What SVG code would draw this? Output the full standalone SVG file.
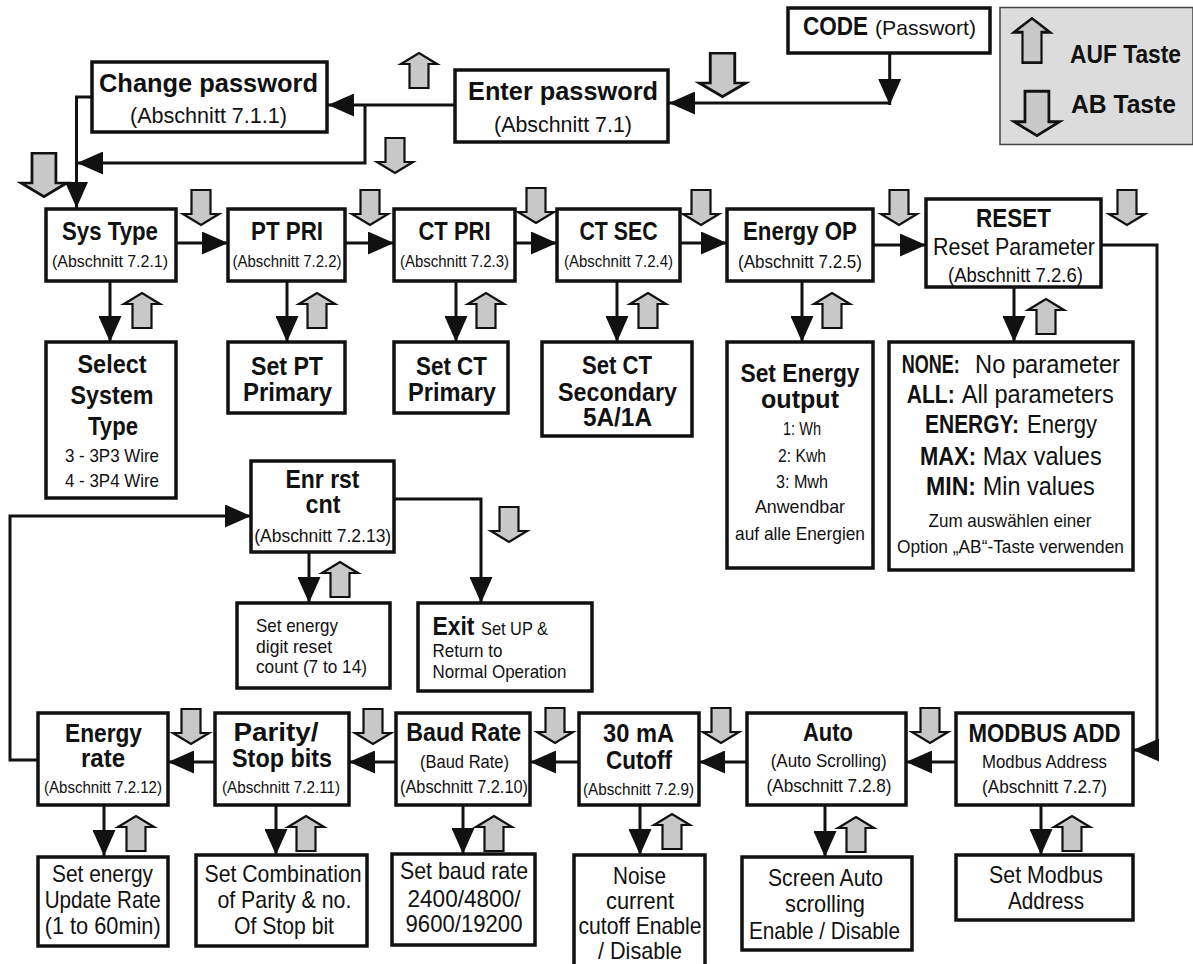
<svg xmlns="http://www.w3.org/2000/svg" xmlns:xlink="http://www.w3.org/1999/xlink" width="1193" height="964" viewBox="0 0 1193 964">
<style>
.b{fill:#fff;stroke:#111;stroke-width:3.5}
.lg{fill:#dcdcdc;stroke:#444;stroke-width:1.5}
.c{fill:none;stroke:#111;stroke-width:3}
.k{fill:#c8c8c8;stroke:#111;stroke-width:2.2;stroke-linejoin:miter}
text{font-family:"Liberation Sans",Arial,sans-serif;fill:#111}
.t{font-weight:bold;font-size:25px;text-anchor:middle}
.m{text-anchor:middle}
</style>
<defs>
<marker id="ah" viewBox="0 0 26 23" refX="26" refY="11.5" markerWidth="26" markerHeight="23" markerUnits="userSpaceOnUse" orient="auto"><path d="M0,0 L26,11.5 L0,23 Z" fill="#111"/></marker>
<path id="dn" class="k" d="M9.5,1 H28.5 V25 H37 L19,36 L1,25 H9.5 Z"/>
<path id="up" class="k" d="M9.5,36 H28.5 V12 H37 L19,1 L1,12 H9.5 Z"/>
</defs>

<g id="connectors">
<path class="c" d="M889.7,53 V105" marker-end="url(#ah)"/>
<path class="c" d="M889.7,103 H669" marker-end="url(#ah)"/>
<path class="c" d="M455,105 H328" marker-end="url(#ah)"/>
<path class="c" d="M365,105 V163 H77" marker-end="url(#ah)"/>
<path class="c" d="M92,97 H76.5 V208" marker-end="url(#ah)"/>
<path class="c" d="M176,243 H228" marker-end="url(#ah)"/>
<path class="c" d="M345,243 H394" marker-end="url(#ah)"/>
<path class="c" d="M515,243 H557" marker-end="url(#ah)"/>
<path class="c" d="M680,243 H727" marker-end="url(#ah)"/>
<path class="c" d="M873,245 H926" marker-end="url(#ah)"/>
<path class="c" d="M1101,245 H1157 V750 H1133" marker-end="url(#ah)"/>
<path class="c" d="M110,281 V342" marker-end="url(#ah)"/>
<path class="c" d="M287,281 V342" marker-end="url(#ah)"/>
<path class="c" d="M456,281 V342" marker-end="url(#ah)"/>
<path class="c" d="M617,281 V342" marker-end="url(#ah)"/>
<path class="c" d="M802,281 V342" marker-end="url(#ah)"/>
<path class="c" d="M1014,287 V342" marker-end="url(#ah)"/>
<path class="c" d="M956,762 H906" marker-end="url(#ah)"/>
<path class="c" d="M747,762 H699" marker-end="url(#ah)"/>
<path class="c" d="M579,762 H530" marker-end="url(#ah)"/>
<path class="c" d="M396,762 H349" marker-end="url(#ah)"/>
<path class="c" d="M215,762 H168" marker-end="url(#ah)"/>
<path class="c" d="M38,760 H10 V516 H251" marker-end="url(#ah)"/>
<path class="c" d="M309,552 V603" marker-end="url(#ah)"/>
<path class="c" d="M394,499 H481 V603" marker-end="url(#ah)"/>
<path class="c" d="M104,805 V856" marker-end="url(#ah)"/>
<path class="c" d="M276,805 V855" marker-end="url(#ah)"/>
<path class="c" d="M463,805 V854" marker-end="url(#ah)"/>
<path class="c" d="M640,805 V855" marker-end="url(#ah)"/>
<path class="c" d="M825,805 V857" marker-end="url(#ah)"/>
<path class="c" d="M1041,805 V855" marker-end="url(#ah)"/>
</g>

<g id="keys">
<use xlink:href="#dn" transform="translate(20,152) scale(1.26,1.24)"/>
<use xlink:href="#dn" transform="translate(698,52) scale(1.29,1.24)"/>
<use xlink:href="#dn" x="376" y="137"/>
<use xlink:href="#up" x="400" y="52"/>
<use xlink:href="#dn" x="182" y="189"/>
<use xlink:href="#dn" x="351" y="189"/>
<use xlink:href="#dn" x="517" y="187"/>
<use xlink:href="#dn" x="682" y="189"/>
<use xlink:href="#dn" x="880" y="189"/>
<use xlink:href="#dn" x="1108" y="189"/>
<use xlink:href="#dn" x="490" y="506"/>
<use xlink:href="#dn" x="172" y="708"/>
<use xlink:href="#dn" x="354" y="708"/>
<use xlink:href="#dn" x="536" y="707"/>
<use xlink:href="#dn" x="702" y="707"/>
<use xlink:href="#dn" x="911" y="707"/>
<use xlink:href="#up" x="123" y="292"/>
<use xlink:href="#up" x="298" y="292"/>
<use xlink:href="#up" x="467" y="292"/>
<use xlink:href="#up" x="629" y="292"/>
<use xlink:href="#up" x="813" y="292"/>
<use xlink:href="#up" x="1027" y="298"/>
<use xlink:href="#up" x="321" y="561"/>
<use xlink:href="#up" x="117" y="815"/>
<use xlink:href="#up" x="287" y="815"/>
<use xlink:href="#up" x="475" y="815"/>
<use xlink:href="#up" x="653" y="813"/>
<use xlink:href="#up" x="837" y="816"/>
<use xlink:href="#up" x="1053" y="815"/>
</g>

<g id="legend">
<rect class="lg" x="1000" y="7.5" width="193" height="137"/>
<use xlink:href="#up" transform="translate(1013,17) scale(1,1.27)"/>
<use xlink:href="#dn" transform="translate(1013,90) scale(1.26,1.27)"/>
<text x="1070" y="63" font-size="26" font-weight="bold" textLength="111" lengthAdjust="spacingAndGlyphs">AUF Taste</text>
<text x="1071" y="113" font-size="26" font-weight="bold" textLength="105" lengthAdjust="spacingAndGlyphs">AB Taste</text>
</g>

<g id="code">
<rect class="b" x="788" y="8" width="202" height="45"/>
<text x="803" y="35" font-size="26" font-weight="bold" textLength="65" lengthAdjust="spacingAndGlyphs">CODE</text>
<text x="875" y="35" font-size="21" textLength="101" lengthAdjust="spacingAndGlyphs">(Passwort)</text>
</g>

<g id="enter-password">
<rect class="b" x="455" y="70" width="213" height="72"/>
<text class="t" x="563" y="100" font-size="27" textLength="190" lengthAdjust="spacingAndGlyphs">Enter password</text>
<text class="m" x="563" y="132" font-size="22" textLength="138" lengthAdjust="spacingAndGlyphs">(Abschnitt 7.1)</text>
</g>

<g id="change-password">
<rect class="b" x="92" y="62" width="235" height="70"/>
<text class="t" x="208.5" y="92" font-size="27" textLength="219" lengthAdjust="spacingAndGlyphs">Change password</text>
<text class="m" x="208.5" y="123" font-size="22" textLength="157" lengthAdjust="spacingAndGlyphs">(Abschnitt 7.1.1)</text>
</g>

<g id="sys-type">
<rect class="b" x="46" y="209" width="130" height="72"/>
<text class="t" x="110" y="240" textLength="96" lengthAdjust="spacingAndGlyphs">Sys Type</text>
<text class="m" x="110" y="267" font-size="17" textLength="116" lengthAdjust="spacingAndGlyphs">(Abschnitt 7.2.1)</text>
</g>
<g id="pt-pri">
<rect class="b" x="228" y="209" width="117" height="72"/>
<text class="t" x="287" y="240" textLength="72" lengthAdjust="spacingAndGlyphs">PT PRI</text>
<text class="m" x="287" y="267" font-size="17" textLength="109" lengthAdjust="spacingAndGlyphs">(Abschnitt 7.2.2)</text>
</g>
<g id="ct-pri">
<rect class="b" x="394" y="209" width="121" height="72"/>
<text class="t" x="454.5" y="240" textLength="72" lengthAdjust="spacingAndGlyphs">CT PRI</text>
<text class="m" x="454.5" y="267" font-size="17" textLength="109" lengthAdjust="spacingAndGlyphs">(Abschnitt 7.2.3)</text>
</g>
<g id="ct-sec">
<rect class="b" x="557" y="209" width="123" height="72"/>
<text class="t" x="618.5" y="240" textLength="78" lengthAdjust="spacingAndGlyphs">CT SEC</text>
<text class="m" x="618.5" y="267" font-size="17" textLength="109" lengthAdjust="spacingAndGlyphs">(Abschnitt 7.2.4)</text>
</g>
<g id="energy-op">
<rect class="b" x="727" y="209" width="146" height="72"/>
<text class="t" x="800" y="240" textLength="114" lengthAdjust="spacingAndGlyphs">Energy OP</text>
<text class="m" x="800" y="268" font-size="19" textLength="124" lengthAdjust="spacingAndGlyphs">(Abschnitt 7.2.5)</text>
</g>
<g id="reset">
<rect class="b" x="926" y="199" width="175" height="88"/>
<text class="t" x="1013.5" y="227" font-size="27" textLength="75" lengthAdjust="spacingAndGlyphs">RESET</text>
<text class="m" x="1014" y="255" font-size="24" textLength="162" lengthAdjust="spacingAndGlyphs">Reset Parameter</text>
<text class="m" x="1015.5" y="282" font-size="21" textLength="135" lengthAdjust="spacingAndGlyphs">(Abschnitt 7.2.6)</text>
</g>

<g id="select-system-type">
<rect class="b" x="46" y="342" width="130" height="156"/>
<text class="t" x="112" y="373" textLength="69" lengthAdjust="spacingAndGlyphs">Select</text>
<text class="t" x="112" y="404" textLength="83" lengthAdjust="spacingAndGlyphs">System</text>
<text class="t" x="113" y="435" textLength="50" lengthAdjust="spacingAndGlyphs">Type</text>
<text class="m" x="112" y="462" font-size="19" textLength="94" lengthAdjust="spacingAndGlyphs">3 - 3P3 Wire</text>
<text class="m" x="112" y="487" font-size="19" textLength="94" lengthAdjust="spacingAndGlyphs">4 - 3P4 Wire</text>
</g>
<g id="set-pt-primary">
<rect class="b" x="228" y="342" width="117" height="71"/>
<text class="t" x="287" y="375" textLength="72" lengthAdjust="spacingAndGlyphs">Set PT</text>
<text class="t" x="287.5" y="401" textLength="89" lengthAdjust="spacingAndGlyphs">Primary</text>
</g>
<g id="set-ct-primary">
<rect class="b" x="394" y="342" width="114" height="71"/>
<text class="t" x="451.5" y="375" textLength="71" lengthAdjust="spacingAndGlyphs">Set CT</text>
<text class="t" x="452" y="401" textLength="88" lengthAdjust="spacingAndGlyphs">Primary</text>
</g>
<g id="set-ct-secondary">
<rect class="b" x="542" y="342" width="150" height="94"/>
<text class="t" x="617" y="374" textLength="70" lengthAdjust="spacingAndGlyphs">Set CT</text>
<text class="t" x="617.5" y="401" textLength="119" lengthAdjust="spacingAndGlyphs">Secondary</text>
<text class="t" x="617.5" y="426" textLength="69" lengthAdjust="spacingAndGlyphs">5A/1A</text>
</g>
<g id="set-energy-output">
<rect class="b" x="727" y="342" width="146" height="226"/>
<text class="t" x="800" y="382" textLength="119" lengthAdjust="spacingAndGlyphs">Set Energy</text>
<text class="t" x="800" y="408" textLength="78" lengthAdjust="spacingAndGlyphs">output</text>
<text class="m" x="802" y="435" font-size="19" textLength="38" lengthAdjust="spacingAndGlyphs">1: Wh</text>
<text class="m" x="802" y="462" font-size="19" textLength="48" lengthAdjust="spacingAndGlyphs">2: Kwh</text>
<text class="m" x="802" y="488" font-size="19" textLength="52" lengthAdjust="spacingAndGlyphs">3: Mwh</text>
<text class="m" x="800" y="513" font-size="19" textLength="90" lengthAdjust="spacingAndGlyphs">Anwendbar</text>
<text class="m" x="800" y="540" font-size="19" textLength="130" lengthAdjust="spacingAndGlyphs">auf alle Energien</text>
</g>
<g id="reset-options">
<rect class="b" x="889" y="342" width="244" height="228"/>
<text x="901.7" y="373" font-size="25" font-weight="bold" textLength="58" lengthAdjust="spacingAndGlyphs">NONE:</text>
<text x="975" y="373" font-size="25" textLength="145" lengthAdjust="spacingAndGlyphs">No parameter</text>
<text x="906.7" y="403" font-size="25" font-weight="bold" textLength="48" lengthAdjust="spacingAndGlyphs">ALL:</text>
<text x="961.7" y="403" font-size="25" textLength="152" lengthAdjust="spacingAndGlyphs">All parameters</text>
<text x="925" y="433" font-size="25" font-weight="bold" textLength="94" lengthAdjust="spacingAndGlyphs">ENERGY:</text>
<text x="1027" y="433" font-size="25" textLength="70" lengthAdjust="spacingAndGlyphs">Energy</text>
<text x="920" y="465" font-size="25" font-weight="bold" textLength="56" lengthAdjust="spacingAndGlyphs">MAX:</text>
<text x="982.7" y="465" font-size="25" textLength="119" lengthAdjust="spacingAndGlyphs">Max values</text>
<text x="926" y="495" font-size="25" font-weight="bold" textLength="50" lengthAdjust="spacingAndGlyphs">MIN:</text>
<text x="982.7" y="495" font-size="25" textLength="112" lengthAdjust="spacingAndGlyphs">Min values</text>
<text class="m" x="1010" y="527" font-size="19" textLength="163" lengthAdjust="spacingAndGlyphs">Zum auswählen einer</text>
<text class="m" x="1010.5" y="553" font-size="19" textLength="227" lengthAdjust="spacingAndGlyphs">Option „AB“-Taste verwenden</text>
</g>

<g id="enr-rst-cnt">
<rect class="b" x="251" y="461" width="143" height="91"/>
<text class="t" x="322.5" y="488" textLength="74" lengthAdjust="spacingAndGlyphs">Enr rst</text>
<text class="t" x="323" y="513" textLength="35" lengthAdjust="spacingAndGlyphs">cnt</text>
<text class="m" x="322.7" y="542" font-size="19" textLength="137" lengthAdjust="spacingAndGlyphs">(Abschnitt 7.2.13)</text>
</g>
<g id="set-energy-digit">
<rect class="b" x="237" y="603" width="153" height="85"/>
<text x="256" y="632" font-size="19" textLength="82" lengthAdjust="spacingAndGlyphs">Set energy</text>
<text x="256" y="653" font-size="19" textLength="76" lengthAdjust="spacingAndGlyphs">digit reset</text>
<text x="256" y="673" font-size="19" textLength="111" lengthAdjust="spacingAndGlyphs">count (7 to 14)</text>
</g>
<g id="exit">
<rect class="b" x="418" y="603" width="174" height="88"/>
<text x="432.5" y="635" font-size="25" font-weight="bold" textLength="42" lengthAdjust="spacingAndGlyphs">Exit</text>
<text x="481" y="635" font-size="19" textLength="67" lengthAdjust="spacingAndGlyphs">Set UP &amp;</text>
<text x="432.5" y="657" font-size="19" textLength="70" lengthAdjust="spacingAndGlyphs">Return to</text>
<text x="432.5" y="678" font-size="19" textLength="134" lengthAdjust="spacingAndGlyphs">Normal Operation</text>
</g>

<g id="energy-rate">
<rect class="b" x="38" y="713" width="130" height="92"/>
<text class="t" x="103.5" y="742" textLength="77" lengthAdjust="spacingAndGlyphs">Energy</text>
<text class="t" x="103" y="767" textLength="44" lengthAdjust="spacingAndGlyphs">rate</text>
<text class="m" x="103" y="793" font-size="16" textLength="118" lengthAdjust="spacingAndGlyphs">(Abschnitt 7.2.12)</text>
</g>
<g id="parity-stop-bits">
<rect class="b" x="215" y="713" width="134" height="92"/>
<text class="t" x="276" y="741" textLength="85" lengthAdjust="spacingAndGlyphs">Parity/</text>
<text class="t" x="282" y="767" textLength="100" lengthAdjust="spacingAndGlyphs">Stop bits</text>
<text class="m" x="281" y="793" font-size="16" textLength="118" lengthAdjust="spacingAndGlyphs">(Abschnitt 7.2.11)</text>
</g>
<g id="baud-rate">
<rect class="b" x="396" y="713" width="134" height="92"/>
<text class="t" x="463.7" y="741" textLength="115" lengthAdjust="spacingAndGlyphs">Baud Rate</text>
<text class="m" x="464.5" y="768" font-size="19" textLength="89" lengthAdjust="spacingAndGlyphs">(Baud Rate)</text>
<text class="m" x="464" y="793" font-size="18" textLength="128" lengthAdjust="spacingAndGlyphs">(Abschnitt 7.2.10)</text>
</g>
<g id="cutoff-30ma">
<rect class="b" x="579" y="713" width="120" height="92"/>
<text class="t" x="638.5" y="742" textLength="71" lengthAdjust="spacingAndGlyphs">30 mA</text>
<text class="t" x="639" y="769" textLength="66" lengthAdjust="spacingAndGlyphs">Cutoff</text>
<text class="m" x="638.5" y="795" font-size="16" textLength="111" lengthAdjust="spacingAndGlyphs">(Abschnitt 7.2.9)</text>
</g>
<g id="auto">
<rect class="b" x="747" y="713" width="159" height="92"/>
<text class="t" x="828" y="741" textLength="50" lengthAdjust="spacingAndGlyphs">Auto</text>
<text class="m" x="828.7" y="767" font-size="19" textLength="116" lengthAdjust="spacingAndGlyphs">(Auto Scrolling)</text>
<text class="m" x="829" y="792" font-size="19" textLength="125" lengthAdjust="spacingAndGlyphs">(Abschnitt 7.2.8)</text>
</g>
<g id="modbus-add">
<rect class="b" x="956" y="713" width="177" height="92"/>
<text class="t" x="1044.5" y="742" textLength="152" lengthAdjust="spacingAndGlyphs">MODBUS ADD</text>
<text class="m" x="1044.5" y="768" font-size="19" textLength="125" lengthAdjust="spacingAndGlyphs">Modbus Address</text>
<text class="m" x="1044.5" y="793" font-size="19" textLength="125" lengthAdjust="spacingAndGlyphs">(Abschnitt 7.2.7)</text>
</g>

<g id="set-energy-update-rate">
<rect class="b" x="38" y="857" width="130" height="89"/>
<text class="m" x="102.5" y="882" font-size="24" textLength="101" lengthAdjust="spacingAndGlyphs">Set energy</text>
<text class="m" x="102.7" y="908" font-size="24" textLength="116" lengthAdjust="spacingAndGlyphs">Update Rate</text>
<text class="m" x="102.7" y="934" font-size="24" textLength="116" lengthAdjust="spacingAndGlyphs">(1 to 60min)</text>
</g>
<g id="set-combination">
<rect class="b" x="196" y="855" width="171" height="91"/>
<text class="m" x="283" y="882" font-size="24" textLength="157" lengthAdjust="spacingAndGlyphs">Set Combination</text>
<text class="m" x="284.4" y="908" font-size="24" textLength="134" lengthAdjust="spacingAndGlyphs">of Parity &amp; no.</text>
<text class="m" x="284" y="934" font-size="24" textLength="100" lengthAdjust="spacingAndGlyphs">Of Stop bit</text>
</g>
<g id="set-baud-rate">
<rect class="b" x="392" y="854" width="143" height="91"/>
<text class="m" x="464" y="879" font-size="24" textLength="128" lengthAdjust="spacingAndGlyphs">Set baud rate</text>
<text class="m" x="464" y="907" font-size="24" textLength="113" lengthAdjust="spacingAndGlyphs">2400/4800/</text>
<text class="m" x="464" y="932" font-size="24" textLength="117" lengthAdjust="spacingAndGlyphs">9600/19200</text>
</g>
<g id="noise-cutoff">
<rect class="b" x="574" y="855" width="131" height="120"/>
<text class="m" x="639.5" y="884" font-size="24" textLength="53" lengthAdjust="spacingAndGlyphs">Noise</text>
<text class="m" x="640" y="909" font-size="24" textLength="68" lengthAdjust="spacingAndGlyphs">current</text>
<text class="m" x="640" y="934" font-size="24" textLength="123" lengthAdjust="spacingAndGlyphs">cutoff Enable</text>
<text class="m" x="640" y="959" font-size="24" textLength="84" lengthAdjust="spacingAndGlyphs">/ Disable</text>
</g>
<g id="screen-auto">
<rect class="b" x="742" y="857" width="170" height="93"/>
<text class="m" x="825.5" y="886" font-size="24" textLength="115" lengthAdjust="spacingAndGlyphs">Screen Auto</text>
<text class="m" x="825" y="912" font-size="24" textLength="80" lengthAdjust="spacingAndGlyphs">scrolling</text>
<text class="m" x="824.5" y="939" font-size="24" textLength="151" lengthAdjust="spacingAndGlyphs">Enable / Disable</text>
</g>
<g id="set-modbus-address">
<rect class="b" x="956" y="855" width="177" height="65"/>
<text class="m" x="1046" y="883" font-size="24" textLength="114" lengthAdjust="spacingAndGlyphs">Set Modbus</text>
<text class="m" x="1046" y="909" font-size="24" textLength="76" lengthAdjust="spacingAndGlyphs">Address</text>
</g>
</svg>
